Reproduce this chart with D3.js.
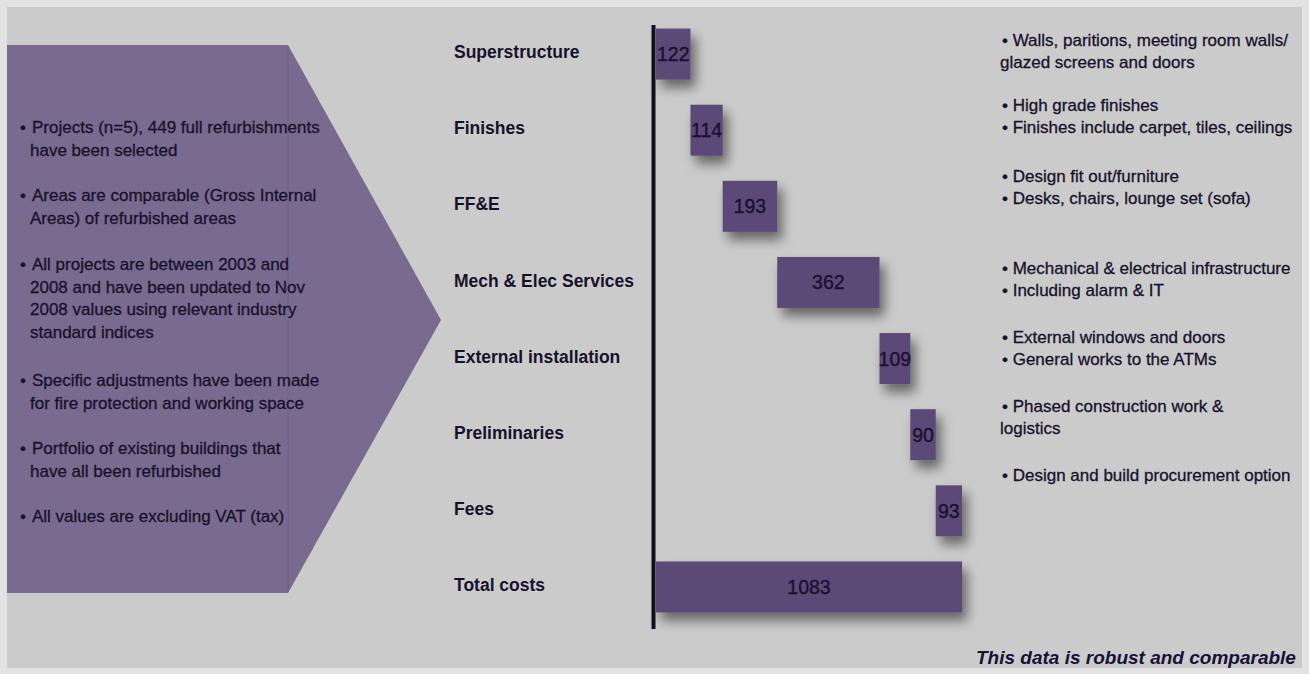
<!DOCTYPE html>
<html>
<head>
<meta charset="utf-8">
<script src="https://cdn.jsdelivr.net/npm/d3@7"></script>
<style>
  html, body { margin: 0; padding: 0; background: #e2e2e2; }
  svg { display: block; }
  text { font-family: "Liberation Sans", Arial, Helvetica, sans-serif; }
</style>
</head>
<body>
<svg id="chart" width="1309" height="674"></svg>
<script>
// ---------- data ----------
const categories = ["Superstructure", "Finishes", "FF&E", "Mech & Elec Services",
                    "External installation", "Preliminaries", "Fees", "Total costs"];
const costs = [122, 114, 193, 362, 109, 90, 93];
const totalCost = 1083;

const panelBullets = [
  ["Projects (n=5), 449 full refurbishments", "have been selected"],
  ["Areas are comparable (Gross Internal", "Areas) of refurbished areas"],
  ["All projects are between 2003 and", "2008 and have been updated to Nov", "2008 values using relevant industry", "standard indices"],
  ["Specific adjustments have been made", "for fire protection and working space"],
  ["Portfolio of existing buildings that", "have all been refurbished"],
  ["All values are excluding VAT (tax)"]
];

const notes = [
  ["• Walls, paritions, meeting room walls/", "glazed screens and doors"],
  ["• High grade finishes", "• Finishes include carpet, tiles, ceilings"],
  ["• Design fit out/furniture", "• Desks, chairs, lounge set (sofa)"],
  ["• Mechanical & electrical infrastructure", "• Including alarm & IT"],
  ["• External windows and doors", "• General works to the ATMs"],
  ["• Phased construction work &", "logistics"],
  ["• Design and build procurement option"]
];
const footnote = "This data is robust and comparable";

// ---------- layout ----------
const W = 1309, H = 674;
const ink = "#17122b";
const barFill = "#5c4878";
const svg = d3.select("#chart");

// background frame
svg.append("rect").attr("x", 7).attr("y", 7).attr("width", W - 14).attr("height", H - 13)
  .attr("fill", "#cbcbcb");

const defs = svg.append("defs");
const f = defs.append("filter").attr("id", "shadow")
  .attr("x", "-30%").attr("y", "-30%").attr("width", "170%").attr("height", "190%");
f.append("feDropShadow").attr("dx", 5).attr("dy", 8).attr("stdDeviation", 6)
  .attr("flood-color", "#000").attr("flood-opacity", 0.5);

// left arrow panel
svg.append("path")
  .attr("d", "M7,45 L288,45 L441,320 L288,593 L7,593 Z")
  .attr("fill", "#796a8f");
svg.append("line").attr("x1", 288).attr("x2", 288).attr("y1", 46).attr("y2", 592)
  .attr("stroke", "#6f6186").attr("stroke-width", 1);

// panel bullets
const panelStarts = [127, 195, 264, 380, 448, 516];
const lineH = 22.7;
panelBullets.forEach((lines, i) => {
  const g = svg.append("g").attr("font-size", 17).attr("fill", ink)
    .attr("stroke", ink).attr("stroke-width", 0.3);
  g.append("text").attr("x", 20).attr("y", panelStarts[i]).attr("dy", "0.35em").text("•");
  lines.forEach((l, j) => {
    g.append("text").attr("x", j === 0 ? 32 : 30).attr("y", panelStarts[i] + j * lineH)
      .attr("dy", "0.35em").text(l);
  });
});

// scales
const x = d3.scaleLinear().domain([0, totalCost]).range([656, 962]);
const y = d3.scaleBand().domain(categories).range([16, 625])
  .paddingInner(0.33).paddingOuter(0.165);

// waterfall data
const starts = costs.map((v, i) => d3.sum(costs.slice(0, i)));
const bars = costs.map((v, i) => ({ cat: categories[i], x0: starts[i], x1: starts[i] + v, v }));
bars.push({ cat: categories[7], x0: 0, x1: totalCost, v: totalCost });

// category labels
svg.append("g").selectAll("text").data(categories).join("text")
  .attr("x", 454).attr("y", d => y(d) + y.bandwidth() / 2 - 2).attr("dy", "0.35em")
  .attr("font-size", 17.5).attr("font-weight", "bold").attr("fill", ink)
  .text(d => d);

// bars
svg.append("g").attr("filter", "url(#shadow)").selectAll("rect").data(bars).join("rect")
  .attr("x", d => x(d.x0)).attr("width", d => x(d.x1) - x(d.x0))
  .attr("y", d => y(d.cat)).attr("height", y.bandwidth())
  .attr("fill", barFill);

svg.append("g").selectAll("text").data(bars).join("text")
  .attr("x", d => (x(d.x0) + x(d.x1)) / 2).attr("y", d => y(d.cat) + y.bandwidth() / 2)
  .attr("dy", "0.36em").attr("text-anchor", "middle")
  .attr("font-size", 19.5).attr("fill", "#1c1030")
  .attr("stroke", "#1c1030").attr("stroke-width", 0.4)
  .text(d => d.v);

// axis line
svg.append("line").attr("x1", 653.5).attr("x2", 653.5).attr("y1", 25).attr("y2", 629)
  .attr("stroke", "#120d1f").attr("stroke-width", 4);

// notes on the right
const noteStarts = [40, 105, 176, 268, 337, 406, 475];
notes.forEach((lines, i) => {
  lines.forEach((l, j) => {
    svg.append("text").attr("x", l.startsWith("•") ? 1002 : 1000)
      .attr("y", noteStarts[i] + j * 22.5).attr("dy", "0.35em")
      .attr("font-size", 17).attr("fill", ink)
      .attr("stroke", ink).attr("stroke-width", 0.3).text(l);
  });
});

// footnote
svg.append("text").attr("x", 976).attr("y", 657).attr("dy", "0.35em")
  .attr("font-size", 19).attr("font-weight", "bold").attr("font-style", "italic")
  .attr("fill", "#17113a").text(footnote);
</script>
</body>
</html>
